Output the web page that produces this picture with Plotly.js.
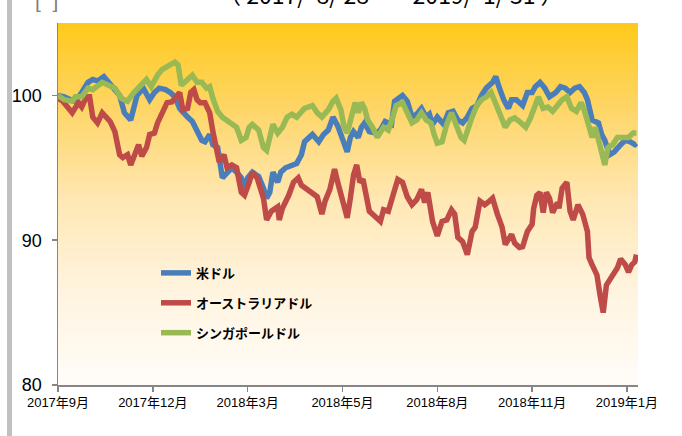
<!DOCTYPE html>
<html><head><meta charset="utf-8">
<script src="https://cdn.plot.ly/plotly-3.0.1.min.js"></script>
<style>html,body{margin:0;padding:0;background:#fff;} #chart{width:682px;height:436px;}</style>
</head><body><div id="chart"></div>
<script>
const tickPositions = [0,60,120,180,240,300,360];
const tickLabels = ['2017年9月','2017年12月','2018年3月','2018年5月','2018年8月','2018年11月','2019年1月'];
const seriesNames = ['米ドル','オーストラリアドル','シンガポールドル'];

const usdDay = [0,4,8,11,15,19,22,25,29,32,35,39,42,46,50,54,58,61,64,68,71,74,77,79,82,85,88,91,93,96,98,101,104,107,110,113,116,118,120,123,127,130,132,134,136,139,141,144,148,151,154,156,159,161,165,168,171,174,177,180,183,185,187,190,192,194,197,201,204,207,211,213,215,218,221,224,227,230,233,235,237,240,244,247,250,253,256,259,262,265,268,271,275,277,279,282,285,287,290,294,297,300,302,305,308,311,315,318,321,324,327,330,333,335,338,342,344,346,349,352,356,359,362,365,366];
const usdVal = [100.0,99.9,99.7,99.6,100.2,100.9,101.1,101.0,101.3,100.9,100.6,100.0,98.8,98.3,100.0,100.5,99.7,100.2,100.5,100.4,100.2,99.9,99.1,98.8,98.5,98.2,97.6,96.9,96.8,97.3,96.6,96.4,94.3,94.7,95.0,94.7,94.3,93.6,94.3,94.7,94.4,93.6,92.9,93.3,94.7,94.0,94.7,95.0,95.2,95.3,95.9,96.8,97.1,97.3,96.8,97.3,97.6,98.5,97.9,97.0,96.1,97.1,97.5,97.1,97.8,98.1,97.5,97.4,97.6,98.2,98.0,99.6,99.8,100.0,99.6,98.5,98.7,99.1,98.5,98.7,98.0,98.5,98.0,98.8,98.9,98.3,98.1,98.5,99.1,99.3,100.0,100.5,100.9,101.3,100.6,99.7,99.1,99.7,99.7,99.3,100.2,100.2,100.6,100.9,100.5,99.9,100.2,100.6,100.5,100.2,100.5,100.6,100.2,99.7,98.3,98.1,97.3,96.9,95.9,96.1,96.6,96.9,96.8,96.6,96.7];

const audDay = [0,3,6,9,13,15,18,20,22,25,28,31,33,36,39,41,44,46,49,51,53,56,58,61,63,66,69,72,75,77,79,82,84,86,88,90,93,96,98,101,102,105,107,110,113,116,118,121,123,126,130,132,135,139,140,142,146,149,152,154,158,161,164,167,169,172,175,177,180,183,185,187,189,191,193,195,197,201,204,206,209,212,215,218,221,224,227,230,232,234,237,240,243,246,249,251,253,256,259,262,264,267,270,273,275,278,281,283,285,287,289,292,294,297,300,301,303,305,307,309,311,313,316,317,319,322,324,326,329,332,335,336,338,341,343,345,347,351,354,356,359,361,363,365,366];
const audVal = [99.8,99.6,99.2,98.8,99.5,99.2,99.9,99.9,98.5,98.1,98.8,98.4,98.2,97.5,95.9,95.7,95.9,95.2,96.1,96.6,95.8,96.4,97.3,97.4,98.1,98.9,99.5,99.55,100.0,100.2,99.0,99.1,100.2,100.4,99.7,99.5,99.5,98.8,97.5,96.1,95.4,95.9,95.0,95.2,95.0,93.3,93.1,94.0,94.7,94.3,92.9,91.4,92.0,92.3,91.4,92.2,93.1,94.0,94.3,93.8,93.5,93.3,93.0,91.8,92.7,93.5,94.9,94.0,92.8,91.55,92.9,94.5,95.2,94.0,94.2,92.9,92.0,91.6,91.3,92.1,92.0,93.1,94.2,94.0,93.0,92.45,92.8,93.5,92.6,93.3,91.3,90.3,91.3,91.4,92.1,91.8,90.2,89.9,89.0,90.6,90.9,92.7,92.45,92.7,92.9,91.8,90.9,89.7,90.0,90.4,89.8,89.5,89.55,90.6,91.1,92.2,93.1,93.3,91.9,93.3,92.9,91.9,92.6,92.2,93.6,94.0,92.0,91.4,92.45,91.8,90.6,88.8,88.3,87.6,86.2,85.0,86.9,87.6,88.1,88.7,88.3,87.8,88.3,88.5,89.0];

const sgdDay = [0,4,9,11,15,19,22,25,28,32,36,40,44,48,52,56,59,63,66,71,74,76,78,82,85,88,91,94,96,98,101,104,107,110,113,116,119,121,123,127,130,132,136,139,142,145,148,151,156,161,164,167,171,174,176,179,181,183,186,188,190,192,194,196,199,202,206,209,211,214,218,221,224,227,230,233,236,238,240,243,246,249,252,255,257,259,262,265,268,271,274,276,280,283,286,289,293,296,299,302,304,307,310,313,316,319,322,325,328,331,333,335,338,340,342,344,346,348,351,354,357,361,364,366];
const sgdVal = [100.0,99.7,99.6,99.9,99.9,100.5,100.4,100.6,100.9,100.7,100.5,99.8,99.6,100.2,100.6,101.1,100.6,101.4,101.8,102.1,102.3,102.1,100.7,101.1,101.4,100.9,100.9,100.5,100.6,99.8,98.9,98.5,98.3,98.0,97.8,96.9,97.1,97.8,98.0,97.6,96.4,96.2,98.0,97.4,97.8,98.5,98.7,98.5,99.1,99.3,98.8,98.5,99.0,99.6,99.8,99.0,97.8,97.4,98.8,99.5,98.8,99.5,99.1,98.3,97.8,97.1,97.8,97.6,98.2,99.3,99.5,98.8,98.1,98.3,98.8,98.3,98.1,97.3,96.7,96.8,98.0,98.8,97.8,97.1,96.9,97.6,98.5,99.3,99.7,99.9,100.2,99.7,98.7,97.8,98.3,98.45,98.1,97.8,98.45,99.3,99.9,99.1,99.2,98.9,99.3,99.7,99.9,99.1,98.9,99.5,99.0,98.3,97.1,97.8,96.8,95.9,95.2,96.4,96.6,97.1,97.1,97.1,97.4,97.4];

const colors = ['#4a7ebb','#be4b48','#98b954'];
const FONT = '"Liberation Sans", Arial, "Noto Sans CJK JP", sans-serif';
const JFONT = '"Noto Sans CJK JP", sans-serif';

function mk(x, y, i) {
  return {x: x, y: y, type: 'scatter', mode: 'lines', name: seriesNames[i],
    legendgroup: 'g' + i, line: {color: colors[i], width: 5.5},
    hoverinfo: 'skip'};
}
const data = [mk(usdDay, usdVal, 0), mk(audDay, audVal, 1), mk(sgdDay, sgdVal, 2)];

// background gradient for the plot area
const stops = [[0, [255,201,26]], [0.25, [254,214,106]], [0.5, [255,232,182]], [0.75, [255,244,224]], [1, [255,252,248]]];
function grad(t) {
  for (let k = 0; k < stops.length - 1; k++) {
    const a = stops[k], b = stops[k+1];
    if (t <= b[0]) {
      const f = (t - a[0]) / (b[0] - a[0]);
      const c = a[1].map((v, j) => Math.round(v + (b[1][j] - v) * f));
      return 'rgb(' + c.join(',') + ')';
    }
  }
  return 'rgb(255,252,248)';
}
const shapes = [];
const NB = 100;
for (let i = 0; i < NB; i++) {
  const t = (i + 0.5) / NB;
  shapes.push({type: 'rect', xref: 'x domain', yref: 'y domain', x0: 0, x1: 1,
    y0: 1 - (i + 1) / NB, y1: Math.min(1, 1 - i / NB + 0.003), fillcolor: grad(t),
    line: {width: 0}, layer: 'below'});
}
// left grey page bar
shapes.push({type: 'rect', xref: 'paper', yref: 'paper', x0: -0.0879, x1: -0.0793, y0: -0.15, y1: 1.08,
  fillcolor: '#c0c0c0', line: {width: 0}, layer: 'above'});

const layout = {
  width: 682, height: 436,
  margin: {l: 58, r: 44, t: 23, b: 51, pad: 0},
  paper_bgcolor: '#ffffff', plot_bgcolor: 'rgba(0,0,0,0)',
  showlegend: true,
  legend: {x: 0.169, y: 0.351, xanchor: 'left', yanchor: 'top', bgcolor: 'rgba(0,0,0,0)',
    font: {family: JFONT, size: 13, color: '#000', weight: 'bold'}, tracegroupgap: 10, itemwidth: 30},
  xaxis: {range: [0, 367], tickmode: 'array', tickvals: tickPositions, ticktext: tickLabels,
    ticks: 'outside', ticklen: 5, tickwidth: 1.5, tickcolor: '#868686',
    showline: true, linecolor: '#868686', linewidth: 1.5, showgrid: false, zeroline: false,
    tickfont: {family: FONT, size: 13, color: '#000'}, fixedrange: true},
  yaxis: {range: [80, 105], tickmode: 'array', tickvals: [80, 90, 100],
    ticks: 'outside', ticklen: 5, tickwidth: 1.5, tickcolor: '#868686', ticklabelstandoff: 6,
    showline: true, linecolor: '#868686', linewidth: 1.5, showgrid: false, zeroline: false,
    tickfont: {family: FONT, size: 18, color: '#000'}, fixedrange: true},
  shapes: shapes,
  annotations: [
    {text: '（ 2017/  8/ 28  ～  2019/  1/ 31 ）', xref: 'paper', yref: 'paper', x: 0.574, y: 1.027,
      xanchor: 'center', yanchor: 'bottom', showarrow: false,
      font: {family: JFONT, size: 23, color: '#000'}},
    {text: '[\u00a0\u00a0]', xref: 'paper', yref: 'paper', x: -0.019, y: 1.025,
      xanchor: 'center', yanchor: 'bottom', showarrow: false,
      font: {family: FONT, size: 21, color: '#7f7f7f'}}
  ]
};
Plotly.newPlot('chart', data, layout, {displayModeBar: false, staticPlot: true});
</script>
</body></html>
